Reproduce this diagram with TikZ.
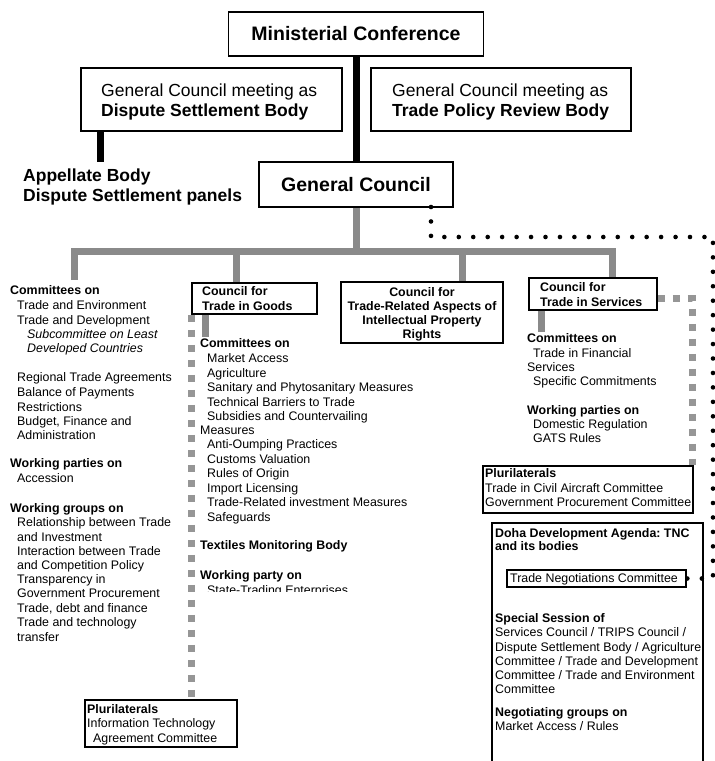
\documentclass[tikz,border=0pt]{standalone}
\usepackage{fontspec}
\setmainfont{Liberation Sans}
\frenchspacing
\definecolor{bargray}{RGB}{138,138,138}
\definecolor{sqgray}{RGB}{150,150,150}
\newcommand\fsBody{\fontsize{12.4}{14.3}\selectfont}
\newcommand\fsBig{\fontsize{17.5}{20}\selectfont}
\newcommand\fsHuge{\fontsize{19.5}{22}\selectfont\bfseries}
\tikzset{
  box/.style={draw=black, line width=1.8pt, inner sep=0pt, rectangle},
  t/.style={anchor=base west, inner sep=0pt, font=\fsBody},
  tb/.style={t, font=\fsBody\bfseries},
  ti/.style={t, font=\fsBody\itshape},
  tc/.style={anchor=base, inner sep=0pt, font=\fsBody\bfseries},
  big/.style={anchor=base west, inner sep=0pt, font=\fsBig},
  bigb/.style={big, font=\fsBig\bfseries},
  blackbar/.style={line width=7pt, black},
  graybar/.style={line width=7pt, bargray, line join=miter},
  sqdash/.style={line width=7pt, sqgray, dash pattern=on 7pt off 8pt},
  dotline/.style={line width=4.6pt, black, line cap=round, dash pattern=on 0pt off 14.45pt},
}
\begin{document}
\begin{tikzpicture}[x=1pt,y=-1pt]
\useasboundingbox (0,0) rectangle (715,761);

% ---------- boxes ----------
\node[box, minimum width=255pt, minimum height=44pt] (mc) at (356,34) {};
\node[box, minimum width=261pt, minimum height=63pt] (dsb) at (211.5,99.5) {};
\node[box, minimum width=260pt, minimum height=63pt] (tprb) at (501,99.5) {};
\node[box, minimum width=194pt, minimum height=45pt] (gc) at (356,184.5) {};
\node[box, minimum width=125pt, minimum height=31pt] (cg) at (254.5,298.5) {};
\node[box, minimum width=162pt, minimum height=61pt] (trips) at (422,312.5) {};
\node[box, minimum width=128pt, minimum height=32pt] (sv) at (593,294) {};
\node[box, minimum width=210pt, minimum height=47pt] (pl2) at (588,489.5) {};
\node[box, minimum width=211pt, minimum height=290pt] (doha) at (597.5,668) {};
\node[box, minimum width=179pt, minimum height=17pt] (tnc) at (596.5,578.5) {};
\node[box, minimum width=152pt, minimum height=47pt] (pl1) at (161,723.5) {};

% ---------- top texts ----------
\node[inner sep=0pt, font=\fsHuge] (mct) at (mc.center) {Ministerial Conference};
\node[inner sep=0pt, font=\fsHuge] (gct) at (gc.center) {General Council};
\node[big] (dsb1) at (101,96) {General Council meeting as};
\node[bigb] (dsb2) at (101,116) {Dispute Settlement Body};
\node[big] (tp1) at (392,96) {General Council meeting as};
\node[bigb] (tp2) at (392,116) {Trade Policy Review Body};
\node[bigb] (ab1) at (23,181) {Appellate Body};
\node[bigb] (ab2) at (23,201) {Dispute Settlement panels};

% ---------- connectors (top) ----------
\draw[blackbar] (mc.south) -- (gc.north);
\coordinate (abEnd) at (100.5,162);
\draw[blackbar] (abEnd |- dsb.south) -- (abEnd);

% gray tree
\coordinate (busL) at (74,251);
\coordinate (busR) at (612,251);
\coordinate (lcTop) at (74,280);
\coordinate (cgDrop) at (236,251);
\coordinate (trDrop) at (462,251);
\draw[graybar] (lcTop) -- (busL) -- (busR) -- (busR |- sv.north);
\draw[graybar] (gc.south) -- (gc.south |- busL);
\draw[graybar] (cgDrop) -- (cgDrop |- cg.north);
\draw[graybar] (trDrop) -- (trDrop |- trips.north);

% goods stem and square dashes
\coordinate (cgStem) at (205,337);
\draw[graybar] (cgStem |- cg.south) -- (cgStem);
\draw[sqdash] (cg.south west) -- (cg.south west |- pl1.north);

% services stem and square dashes
\coordinate (svStem) at (541,332);
\draw[graybar] (svStem |- sv.south) -- (svStem);
\coordinate (svCorner) at (692,298);
\draw[sqdash] (svCorner -| sv.east) -- (svCorner) -- (svCorner |- pl2.north);

% dotted line from General Council to TNC
\coordinate (d1) at (431,207);
\coordinate (d2) at (431,237);
\coordinate (d3) at (713,237);
\coordinate (d4) at (713,578.5);
\draw[dotline] (d1) -- (d2) -- (d3) -- (d4) -- (tnc.east);

% ---------- left column ----------
\node[tb] (l1) at (10,294) {Committees on};
\node[t] (l2) at (17,309) {Trade and Environment};
\node[t] (l3) at (17,324) {Trade and Development};
\node[ti] (l4) at (27,338) {Subcommittee on Least};
\node[ti] (l5) at (27,352) {Developed Countries};
\node[t] (l6) at (17,381) {Regional Trade Agreements};
\node[t] (l7) at (17,396) {Balance of Payments};
\node[t] (l8) at (17,411) {Restrictions};
\node[t] (l9) at (17,425) {Budget, Finance and};
\node[t] (l10) at (17,439) {Administration};
\node[tb] (l11) at (10,467) {Working parties on};
\node[t] (l12) at (17,482) {Accession};
\node[tb] (l13) at (10,512) {Working groups on};
\node[t] (l14) at (17,526) {Relationship between Trade};
\node[t] (l15) at (17,541) {and Investment};
\node[t] (l16) at (17,555) {Interaction between Trade};
\node[t] (l17) at (17,569) {and Competition Policy};
\node[t] (l18) at (17,583) {Transparency in};
\node[t] (l19) at (17,597) {Government Procurement};
\node[t] (l20) at (17,612) {Trade, debt and finance};
\node[t] (l21) at (17,626) {Trade and technology};
\node[t] (l22) at (17,641) {transfer};

% ---------- goods column ----------
\node[tb] (g0a) at (202,295) {Council for};
\node[tb] (g0b) at (202,310) {Trade in Goods};
\node[tb] (g1) at (200,347) {Committees on};
\node[t] (g2) at (207,362) {Market Access};
\node[t] (g3) at (207,377) {Agriculture};
\node[t] (g4) at (207,391) {Sanitary and Phytosanitary Measures};
\node[t] (g5) at (207,406) {Technical Barriers to Trade};
\node[t] (g6) at (207,420) {Subsidies and Countervailing};
\node[t] (g7) at (200,434) {Measures};
\node[t] (g8) at (207,448) {Anti-Oumping Practices};
\node[t] (g9) at (207,463) {Customs Valuation};
\node[t] (g10) at (207,477) {Rules of Origin};
\node[t] (g11) at (207,492) {Import Licensing};
\node[t] (g12) at (207,506) {Trade-Related investment Measures};
\node[t] (g13) at (207,521) {Safeguards};
\node[tb] (g14) at (200,549) {Textiles Monitoring Body};
\node[tb] (g15) at (200,579) {Working party on};
\begin{scope}
\clip (150,570) rectangle (420,591.5);
\node[t] (g16) at (207,594) {State-Trading Enterprises};
\end{scope}

% goods plurilaterals
\node[tb] (p1a) at (87,713) {Plurilaterals};
\node[t] (p1b) at (87,727) {Information Technology};
\node[t] (p1c) at (93,742) {Agreement Committee};

% ---------- TRIPS ----------
\node[tc] (tr1) at (422,296) {Council for};
\node[tc] (tr2) at (422,310) {Trade-Related Aspects of};
\node[tc] (tr3) at (422,324) {Intellectual Property};
\node[tc] (tr4) at (422,338) {Rights};

% ---------- services column ----------
\node[tb] (s0a) at (540,291) {Council for};
\node[tb] (s0b) at (540,306) {Trade in Services};
\node[tb] (s1) at (527,342) {Committees on};
\node[t] (s2) at (533,357) {Trade in Financial};
\node[t] (s3) at (527,371) {Services};
\node[t] (s4) at (533,385) {Specific Commitments};
\node[tb] (s5) at (527,414) {Working parties on};
\node[t] (s6) at (533,428) {Domestic Regulation};
\node[t] (s7) at (533,442) {GATS Rules};

% services plurilaterals
\node[tb] (p2a) at (485,477) {Plurilaterals};
\node[t] (p2b) at (485,492) {Trade in Civil Aircraft Committee};
\node[t] (p2c) at (485,506) {Government Procurement Committee};

% ---------- Doha ----------
\node[tb] (d0a) at (495,537) {Doha Development Agenda: TNC};
\node[tb] (d0b) at (495,550) {and its bodies};
\node[t] (tnct) at (510,582.5) {Trade Negotiations Committee};
\node[tb] (ds1) at (495,622) {Special Session of};
\node[t] (ds2) at (495,636.5) {Services Council / TRIPS Council /};
\node[t] (ds3) at (495,651) {Dispute Settlement Body / Agriculture};
\node[t] (ds4) at (495,665.5) {Committee / Trade and Development};
\node[t] (ds5) at (495,679) {Committee / Trade and Environment};
\node[t] (ds6) at (495,693) {Committee};
\node[tb] (ng1) at (495,716) {Negotiating groups on};
\node[t] (ng2) at (495,730) {Market Access / Rules};
\end{tikzpicture}
\end{document}
